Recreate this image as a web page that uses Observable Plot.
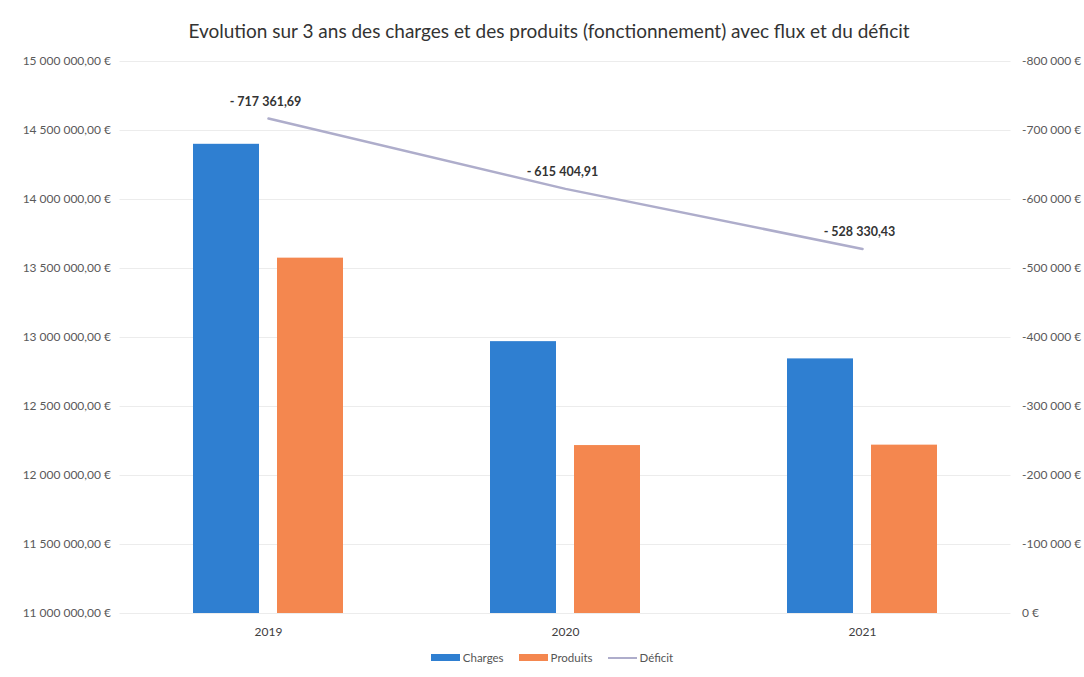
<!DOCTYPE html>
<html>
<head>
<meta charset="utf-8">
<script src="https://cdn.jsdelivr.net/npm/d3@7"></script>
<script src="https://cdn.jsdelivr.net/npm/@observablehq/plot@0.6"></script>
<style>
  html, body { margin: 0; padding: 0; background: #fff; }
  body { width: 1084px; height: 677px; overflow: hidden; font-family: Lato, "Open Sans", sans-serif; }
  #title { height: 45px; line-height: 62px; text-align: center; font-size: 19px; color: #333; padding-left: 14px; box-sizing: border-box; }
  #chart svg { display: block; }
  #legend { display: flex; justify-content: center; align-items: center; gap: 15px; font-size: 11.5px; color: #555; margin-top: 8px; padding-left: 20px; }
  .item { display: flex; align-items: center; gap: 3px; }
  .sw { width: 29px; height: 7px; display: inline-block; }
  .ln { width: 29px; height: 2px; display: inline-block; }
</style>
</head>
<body>
<div id="title">Evolution sur 3 ans des charges et des produits (fonctionnement) avec flux et du déficit</div>
<div id="chart"></div>
<div id="legend"></div>
<script>
// ---- data ----
const years = ["2019", "2020", "2021"];
const series = ["Charges", "Produits"];
const charges = [14400000, 12970000, 12845000];
const produits = [13575000, 12217000, 12220000];
const deficit = [-717361.69, -615404.91, -528330.43];
const deficitLabels = ["- 717 361,69", "- 615 404,91", "- 528 330,43"];
const leftTicks = [11000000, 11500000, 12000000, 12500000, 13000000, 13500000, 14000000, 14500000, 15000000];
const rightTicks = [0, -100000, -200000, -300000, -400000, -500000, -600000, -700000, -800000];
const colors = { Charges: "#2f7fd1", Produits: "#f4874f", "Déficit": "#aeadcb" };

// ---- scales helpers ----
const yMin = 11000000, yMax = 15000000;
const rMin = 0, rMax = -800000;
// map right-axis value into left scale domain
const toLeft = v => yMin + (v - rMin) / (rMax - rMin) * (yMax - yMin);
const fromLeft = y => rMin + (y - yMin) / (yMax - yMin) * (rMax - rMin);

const fr = d3.formatLocale({ decimal: ",", thousands: "\u202f", grouping: [3], currency: ["", " €"] });
const fmtLeft = v => fr.format(",.2f")(v) + " €";
const fmtRight = v => fr.format(",.0f")(v).replace("−", "-") + " €";

const bars = [];
years.forEach((y, i) => {
  bars.push({ year: y, series: "Charges", value: charges[i] });
  bars.push({ year: y, series: "Produits", value: produits[i] });
});
const line = years.map((y, i) => ({ year: y, value: deficit[i], yl: toLeft(deficit[i]), label: deficitLabels[i] }));

const chart = Plot.plot({
  width: 1084,
  height: 598,
  marginLeft: 119.5,
  marginRight: 73.5,
  marginTop: 16,
  marginBottom: 30,
  style: { fontFamily: "Lato, 'Open Sans', sans-serif", fontSize: "11.5px", color: "#555", background: "#fff" },
  x: { domain: years, paddingInner: 0.7778, paddingOuter: 0.3889, label: null },
  y: { domain: [yMin, yMax], label: null },
  marks: [
    Plot.gridY(leftTicks, { stroke: "#ececec", strokeOpacity: 1 }),
    Plot.axisY(leftTicks, { anchor: "left", tickSize: 0, tickPadding: 9, tickFormat: fmtLeft, label: null, fill: "#5a5a5a", fontSize: 12 }),
    Plot.axisY(rightTicks.map(toLeft), { anchor: "right", tickSize: 0, tickPadding: 11, tickFormat: d => fmtRight(fromLeft(d)), label: null, fill: "#5a5a5a", fontSize: 12 }),
    Plot.axisX({ tickSize: 0, tickPadding: 14, label: null, fill: "#404040", fontSize: 12 }),
    Plot.barY(bars.filter(d => d.series === "Charges"), { x: "year", y1: () => yMin, y2: "value", fill: colors.Charges, dx: -42 }),
    Plot.barY(bars.filter(d => d.series === "Produits"), { x: "year", y1: () => yMin, y2: "value", fill: colors.Produits, dx: 42 }),
    Plot.line(line, { x: "year", y: "yl", stroke: colors["Déficit"], strokeWidth: 2.5 }),
    Plot.text(line, { x: "year", y: "yl", text: "label", dy: -17, dx: -3, fontWeight: "bold", fontSize: 12.5, fill: "#333" })
  ]
});
document.getElementById("chart").appendChild(chart);

const legend = document.getElementById("legend");
["Charges", "Produits", "Déficit"].forEach(k => {
  const it = document.createElement("span");
  it.className = "item";
  const sw = document.createElement("span");
  sw.className = k === "Déficit" ? "ln" : "sw";
  sw.style.background = colors[k];
  it.appendChild(sw);
  it.appendChild(document.createTextNode(k));
  legend.appendChild(it);
});
</script>
</body>
</html>
